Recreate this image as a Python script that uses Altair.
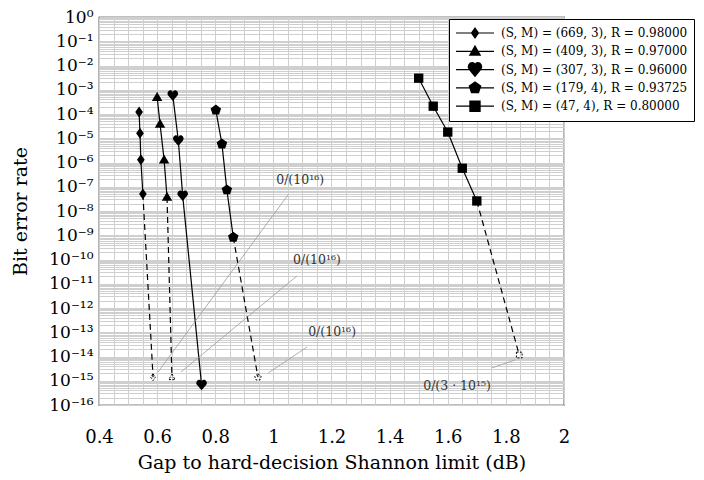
import altair as alt
import pandas as pd

FONT = "DejaVu Serif"

series_names = [
    "(S, M) = (669, 3), R = 0.98000",
    "(S, M) = (409, 3), R = 0.97000",
    "(S, M) = (307, 3), R = 0.96000",
    "(S, M) = (179, 4), R = 0.93725",
    "\u2007(S, M) = (47, 4), R = 0.80000",
]

x_669 = [0.538, 0.541, 0.544, 0.551]
y_669 = [1.2e-4, 1.6e-5, 1.3e-6, 5e-8]
x_409 = [0.600, 0.610, 0.624, 0.634]
y_409 = [5e-4, 3.9e-5, 1.3e-6, 3.8e-8]
x_307 = [0.654, 0.673, 0.688, 0.753]
y_307 = [5.7e-4, 7.9e-6, 4.2e-8, 6.6e-16]
x_179 = [0.802, 0.823, 0.840, 0.862]
y_179 = [1.45e-4, 5.8e-6, 7.4e-8, 8.3e-10]
x_47 = [1.50, 1.55, 1.60, 1.65, 1.70]
y_47 = [3e-3, 2.1e-4, 1.8e-5, 5.8e-7, 2.6e-8]

# zero-error end points (drawn dashed)
zero_series = [0, 1, 3, 4]
zero_x = [0.586, 0.651, 0.947, 1.846]
zero_y = [1.4e-15, 1.4e-15, 1.4e-15, 1.15e-14]

# annotations
ann_text = ["0/(10¹⁶)", "0/(10¹⁶)", "0/(10¹⁶)", "0/(3 · 10¹⁵)"]
ann_text_x = [1.092, 1.150, 1.202, 1.632]
ann_text_y = [10 ** -6.72, 10 ** -10.02, 10 ** -12.99, 10 ** -15.22]
ann_from_x = [1.050, 1.081, 1.116, 1.752]
ann_from_y = [10 ** -7.34, 10 ** -10.68, 10 ** -13.61, 10 ** -14.47]
ann_to_x = [0.603, 0.682, 0.982, 1.832]
ann_to_y = [10 ** -14.64, 10 ** -14.64, 10 ** -14.68, 10 ** -14.14]

# ---------- data tables ----------
all_x = [x_669, x_409, x_307, x_179, x_47]
all_y = [y_669, y_409, y_307, y_179, y_47]
rows = []
for name, xs, ys in zip(series_names, all_x, all_y):
    for x, y in zip(xs, ys):
        rows.append({"series": name, "x": x, "y": y})
df = pd.DataFrame(rows)

dash_rows = []
zero_rows = []
for si, zx, zy in zip(zero_series, zero_x, zero_y):
    name = series_names[si]
    dash_rows.append({"series": name, "x": all_x[si][-1], "y": all_y[si][-1]})
    dash_rows.append({"series": name, "x": zx, "y": zy})
    zero_rows.append({"series": name, "x": zx, "y": zy})
dash_df = pd.DataFrame(dash_rows)
zero_df = pd.DataFrame(zero_rows)

ann_df = pd.DataFrame({"text": ann_text, "x": ann_text_x, "y": ann_text_y})
lead_df = pd.DataFrame({"x": ann_from_x, "y": ann_from_y, "x2": ann_to_x, "y2": ann_to_y})


# ---------- marker shapes ----------
def poly(pts, k=1.0):
    return "M" + "L".join(f"{px * k:.4f},{py * k:.4f}" for px, py in pts) + "Z"


def heart(k=1.0):
    c = lambda a, b: f"{a * k:.4f},{b * k:.4f}"
    return (f"M{c(0, 0.95)}L{c(-0.85, -0.05)}C{c(-1.15, -0.5)} {c(-0.8, -1)} {c(-0.4, -1)}"
            f"C{c(-0.15, -1)} {c(0, -0.8)} {c(0, -0.55)}C{c(0, -0.8)} {c(0.15, -1)} {c(0.4, -1)}"
            f"C{c(0.8, -1)} {c(1.15, -0.5)} {c(0.85, -0.05)}Z")


diamond_pts = [(0, -1), (0.7, 0), (0, 1), (-0.7, 0)]
tri_pts = [(0, -0.95), (0.95, 0.7), (-0.95, 0.7)]
pent_pts = [(0, -1), (0.951, -0.309), (0.588, 0.809), (-0.588, 0.809), (-0.951, -0.309)]
sq_pts = [(-0.85, -0.85), (0.85, -0.85), (0.85, 0.85), (-0.85, 0.85)]

shape_paths = [poly(diamond_pts), poly(tri_pts), heart(), poly(pent_pts), poly(sq_pts)]
shape_sizes = [121, 121, 196, 150, 150]

# legend symbols: a short line with the marker, filled by concentric strokes
LEG = 38.0
leg_k = [5.0 / 19, 5.5 / 19, 7 / 19, 6 / 19, 6 / 19]
leg_makers = [lambda k: poly(diamond_pts, k), lambda k: poly(tri_pts, k), heart,
              lambda k: poly(pent_pts, k), lambda k: poly(sq_pts, k)]


def filled_symbol(make, k, steps=9):
    return "M-1,0L1,0" + "".join(make(k * (steps - i) / steps) for i in range(steps))


legend_paths = [filled_symbol(m, k) for m, k in zip(leg_makers, leg_k)]

# ---------- axes ----------
sup = str.maketrans("-0123456789", "⁻⁰¹²³⁴⁵⁶⁷⁸⁹")
dec_labels = ["10" + str(-k).translate(sup) for k in range(0, 17)]
label_arr = "[" + ",".join(f"'{s}'" for s in dec_labels) + "]"
y_vals = [m * 10.0 ** k for k in range(-16, 0) for m in range(1, 10)] + [1.0]
y_axis = alt.Axis(
    values=y_vals,
    labelExpr=f"abs(log(datum.value)/LN10 - round(log(datum.value)/LN10)) < 0.001 ? "
              f"{label_arr}[round(-log(datum.value)/LN10)] : ''",
    title="Bit error rate", titleFont=FONT, titleFontSize=19, titleFontWeight="normal",
    titleColor="black", titlePadding=18,
    labelFont=FONT, labelFontSize=17, labelColor="black", labelPadding=6,
    labelOverlap=False, labelFlush=False, ticks=False, domain=False,
    grid=True, gridColor="#cfcfcf", gridWidth=1,
)
x_vals = [round(0.4 + 0.05 * i, 2) for i in range(33)]
x_axis = alt.Axis(
    values=x_vals,
    labelExpr="abs(datum.value*5 - round(datum.value*5)) < 0.001 ? format(datum.value, '~g') : ''",
    title="Gap to hard-decision Shannon limit (dB)", titleFont=FONT, titleFontSize=19,
    titleFontWeight="normal", titleColor="black", titlePadding=7,
    labelFont=FONT, labelFontSize=18, labelColor="black", labelPadding=23,
    labelOverlap=False, labelFlush=False, ticks=False, domain=False,
    grid=True, gridColor="#cfcfcf", gridWidth=1,
)
x_scale = alt.Scale(domain=[0.4, 2.0], nice=False, zero=False)
y_scale = alt.Scale(type="log", domain=[1e-16, 1], nice=False)


def X(f="x"):
    return alt.X(f"{f}:Q", scale=x_scale, axis=x_axis)


def Y(f="y"):
    return alt.Y(f"{f}:Q", scale=y_scale, axis=y_axis)


lines = alt.Chart(df).mark_line(color="black", strokeWidth=1.2).encode(
    x=X(), y=Y(), detail="series:N")
dashed = alt.Chart(dash_df).mark_line(color="black", strokeWidth=1.2, strokeDash=[6, 4]).encode(
    x=X(), y=Y(), detail="series:N")
points = alt.Chart(df).mark_point(filled=True, opacity=1, color="black").encode(
    x=X(), y=Y(),
    shape=alt.Shape("series:N", scale=alt.Scale(domain=series_names, range=shape_paths), legend=None),
    size=alt.Size("series:N", scale=alt.Scale(domain=series_names, range=shape_sizes), legend=None),
)
zeros = alt.Chart(zero_df).mark_point(filled=False, opacity=1, color="black", strokeWidth=1,
                                      strokeDash=[2, 1.5], size=45).encode(
    x=X(), y=Y(),
    shape=alt.Shape("series:N", scale=alt.Scale(domain=series_names, range=shape_paths), legend=None),
)
leaders = alt.Chart(lead_df).mark_rule(color="#9a9a9a", strokeWidth=0.8).encode(
    x=X(), y=Y(), x2="x2:Q", y2="y2:Q")
labels = alt.Chart(ann_df).mark_text(font=FONT, fontSize=12.5, color="#333333").encode(
    x=X(), y=Y(), text="text:N")
legend_layer = alt.Chart(df).mark_point(filled=False, opacity=0, color="black",
                                        strokeWidth=1.2).encode(
    x=X(), y=Y(),
    shape=alt.Shape("series:N", scale=alt.Scale(domain=series_names, range=legend_paths),
                    legend=alt.Legend(
                        orient="none", legendX=350, legendY=2, title=None,
                        symbolSize=LEG * LEG, symbolOpacity=1,
                        symbolStrokeColor="black", symbolStrokeWidth=1.2,
                        labelFont=FONT, labelFontSize=12, labelColor="black", labelOffset=6,
                        clipHeight=16, rowPadding=2.3, padding=6,
                        fillColor="white", strokeColor="black", cornerRadius=0,
                        labelLimit=400,
                    )),
)

chart = alt.layer(lines, dashed, leaders, labels, points, zeros, legend_layer).resolve_scale(
    shape="independent"
).resolve_legend(shape="independent").properties(
    width=465, height=388,
    autosize=alt.AutoSizeParams(type="none"),
    padding={"left": 91, "top": 9, "right": 132, "bottom": 70},
).configure_view(stroke="black", strokeWidth=1.2)

chart.save("out.html", embed_options={"renderer": "svg", "actions": False})
